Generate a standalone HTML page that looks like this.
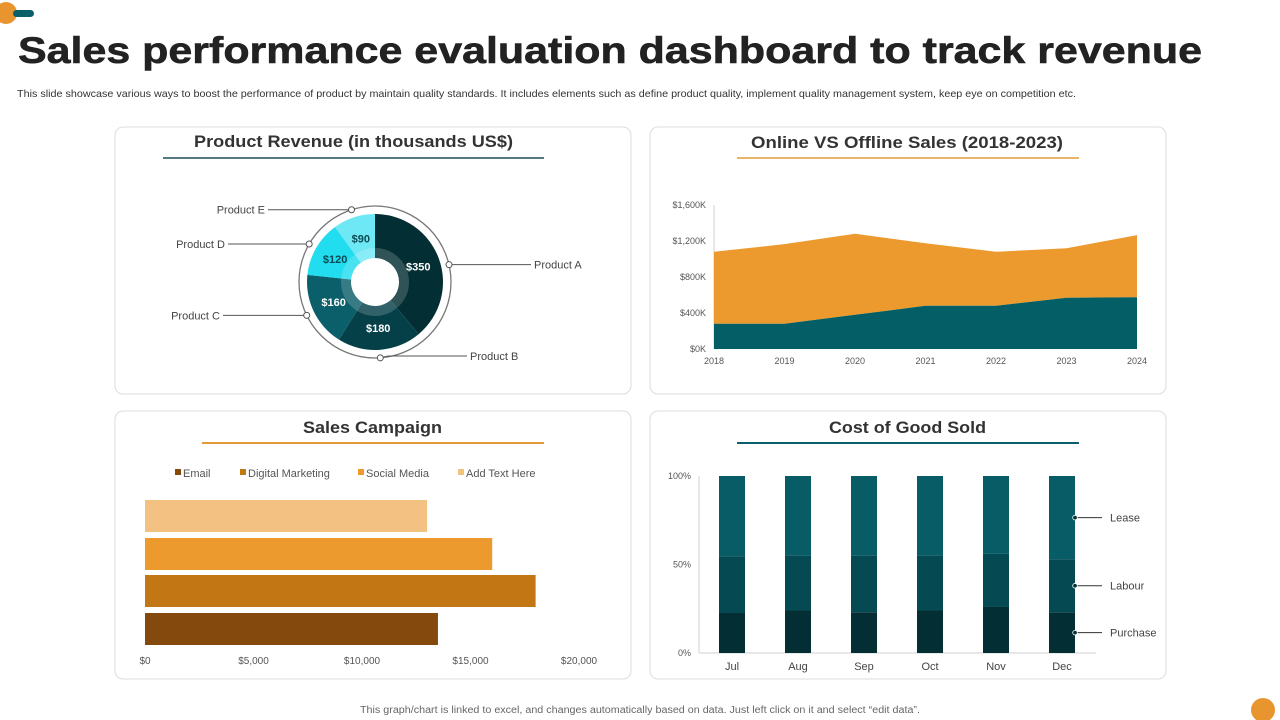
<!DOCTYPE html>
<html><head><meta charset="utf-8"><style>
body{margin:0;background:#fff;}
svg{display:block;font-family:"Liberation Sans",Arial,sans-serif;}
</style></head><body>
<svg id="s" width="1280" height="720" viewBox="0 0 1280 720">
<circle cx="6" cy="13" r="11" fill="#e8952f"/>
<rect x="13" y="10" width="21" height="7" rx="3.5" fill="#0b5f6a"/>
<text x="18" y="63" font-size="37" font-weight="bold" fill="#222" stroke="#222" stroke-width="0.6" textLength="1184" lengthAdjust="spacingAndGlyphs">Sales performance evaluation dashboard to track revenue</text>
<text x="17" y="97" font-size="10.5" fill="#333" textLength="1059" lengthAdjust="spacingAndGlyphs">This slide showcase various ways to boost the performance of product by maintain quality standards. It includes elements such as define product quality,  implement quality management system, keep eye on competition etc.</text>

<rect x="115" y="127" width="516" height="267" rx="8" fill="#fff" stroke="#dcdcdc"/>
<rect x="650" y="127" width="516" height="267" rx="8" fill="#fff" stroke="#dcdcdc"/>
<rect x="115" y="411" width="516" height="268" rx="8" fill="#fff" stroke="#dcdcdc"/>
<rect x="650" y="411" width="516" height="268" rx="8" fill="#fff" stroke="#dcdcdc"/>

<text x="194" y="147" font-size="17" font-weight="bold" fill="#333" textLength="319" lengthAdjust="spacingAndGlyphs">Product Revenue (in thousands US$)</text>
<line x1="163" y1="158" x2="544" y2="158" stroke="#1d4e5c" stroke-width="1.5"/>
<text x="751" y="148" font-size="17" font-weight="bold" fill="#333" textLength="312" lengthAdjust="spacingAndGlyphs">Online VS Offline Sales (2018-2023)</text>
<line x1="737" y1="158" x2="1079" y2="158" stroke="#e39a3b" stroke-width="1.5"/>
<text x="303" y="433" font-size="17" font-weight="bold" fill="#333" textLength="139" lengthAdjust="spacingAndGlyphs">Sales Campaign</text>
<line x1="202" y1="443" x2="544" y2="443" stroke="#e39a3b" stroke-width="2"/>
<text x="829" y="433" font-size="17" font-weight="bold" fill="#333" textLength="157" lengthAdjust="spacingAndGlyphs">Cost of Good Sold</text>
<line x1="737" y1="443" x2="1079" y2="443" stroke="#0b5f6a" stroke-width="2"/>

<g id="donut"></g><g id="area"></g><g id="bars"></g><g id="cogs"></g>

<text x="360" y="713" font-size="10" fill="#666" textLength="560" lengthAdjust="spacingAndGlyphs">This graph/chart is linked to excel, and changes automatically based on data. Just left click on it and select “edit data”.</text>
<circle cx="1263" cy="710" r="12" fill="#e8952f"/>
</svg>
<script>
const NS="http://www.w3.org/2000/svg";
function mk(p,t,a,txt){const e=document.createElementNS(NS,t);for(const k in a)e.setAttribute(k,a[k]);if(txt!==undefined)e.textContent=txt;p.appendChild(e);return e;}

// Donut data
const products=["Product A","Product B","Product C","Product D","Product E"];
const revenue=[350,180,160,120,90];
// Area data
const years=["2018","2019","2020","2021","2022","2023","2024"];
const online=[280,280,380,480,480,570,575];
const offline=[800,885,900,695,600,550,690];
const areaTicks=["$0K","$400K","$800K","$1,200K","$1,600K"];
// Sales campaign
const channels=["Email","Digital Marketing","Social Media","Add Text Here"];
const campaignValues=[13500,18000,16000,13000];
const campaignTicks=["$0","$5,000","$10,000","$15,000","$20,000"];
// COGS
const months=["Jul","Aug","Sep","Oct","Nov","Dec"];
const purchase=[22.6,24,23,24,26,23];
const labour=[32,31,32,31,30,30];
const lease=[45.4,45,45,45,44,47];
const cogsTicks=["0%","50%","100%"];

// ---- Donut
(function(){
 const g=document.getElementById('donut');
 const cx=375,cy=282,R=68,r0=24;
 const cols=["#032e33","#054048","#0b5f6a","#22dcef","#6fe8f6"];
 const tot=revenue.reduce((a,b)=>a+b,0);
 let a0=0;
 const pt=(a,r)=>[cx+r*Math.sin(a),cy-r*Math.cos(a)];
 mk(g,'circle',{cx,cy,r:76,fill:'none',stroke:'#777','stroke-width':1.3});
 revenue.forEach((v,i)=>{
  const a1=a0+v/tot*2*Math.PI;
  const [x0,y0]=pt(a0,R),[x1,y1]=pt(a1,R),[x2,y2]=pt(a1,r0),[x3,y3]=pt(a0,r0);
  const lg=(a1-a0)>Math.PI?1:0;
  const p=mk(g,'path',{d:`M${x0},${y0}A${R},${R} 0 ${lg} 1 ${x1},${y1}L${x2},${y2}A${r0},${r0} 0 ${lg} 0 ${x3},${y3}Z`,fill:cols[i]});
  
  
  const am=(a0+a1)/2,[lx,ly]=pt(am,46);
  const t=mk(g,'text',{x:lx,y:ly+4,'font-size':11,'font-weight':'bold','text-anchor':'middle',fill:i>=3?'#0b4a55':'#fff'},'$'+v);
  
  
  // leader
  const la=i==0?Math.PI/2-0.23:am;
  const [dx,dy]=pt(la,76);
  const right=Math.sin(la)>0;
  const ex=right?(i==0?531:467):(i==2?223:(i==3?228:268));
  const ey=i==1?356:dy;
  mk(g,'polyline',{points:`${dx},${dy} ${i==1?dx+8:dx},${ey} ${ex},${ey}`,fill:'none',stroke:'#555','stroke-width':1});
  const c=mk(g,'circle',{cx:dx,cy:dy,r:3,fill:'#fff',stroke:'#555'});
  
  const lt=mk(g,'text',{x:right?ex+3:ex-3,y:ey+4,'font-size':11,fill:'#444','text-anchor':right?'start':'end'},products[i]);
  
  
  a0=a1;
 });
 mk(g,'circle',{cx,cy,r:29,fill:'none',stroke:'rgba(255,255,255,0.18)','stroke-width':10});
})();

// ---- Area
(function(){
 const g=document.getElementById('area');
 const X=i=>714+i*(1137-714)/(years.length-1);
 const Y=v=>349-v*(144/1600);
 mk(g,'line',{x1:714,y1:205,x2:714,y2:349,stroke:'#d0d0d0'});
 areaTicks.forEach((t,i)=>{const e=mk(g,'text',{x:706,y:Y(i*400)+3,'font-size':9,fill:'#555','text-anchor':'end'},t);});
 years.forEach((y,i)=>{const e=mk(g,'text',{x:X(i),y:364,'font-size':9,fill:'#555','text-anchor':'middle'},y);});
 let top=online.map((v,i)=>X(i)+','+Y(v+offline[i])).join(' ');
 let mid=online.map((v,i)=>X(i)+','+Y(v)).reverse().join(' ');
 const o=mk(g,'polygon',{points:top+' '+mid,fill:'#ec9a2e'});
 
 
 let base=online.map((v,i)=>X(i)+','+Y(v)).join(' ')+` ${X(years.length-1)},${Y(0)} ${X(0)},${Y(0)}`;
 const n=mk(g,'polygon',{points:base,fill:'#035e66'});
 
 
})();

// ---- Sales campaign
(function(){
 const g=document.getElementById('bars');
 const cols=["#84490c","#c27614","#ec9a2e","#f3c182"];
 const X=v=>145+v*(434/20000);
 const legX=[175,240,358,458];
 channels.forEach((c,i)=>{
  mk(g,'rect',{x:legX[i],y:469,width:6,height:6,fill:cols[i]});
  const t=mk(g,'text',{x:legX[i]+8,y:477,'font-size':11,fill:'#555'},c);
  
  
 });
 const ys=[613,575,538,500];
 campaignValues.forEach((v,i)=>{
  const r=mk(g,'rect',{x:145,y:ys[i],width:X(v)-145,height:32,fill:cols[i]});
  
  
 });
 campaignTicks.forEach((t,i)=>{const e=mk(g,'text',{x:X(i*5000),y:664,'font-size':10,fill:'#555','text-anchor':'middle'},t);});
})();

// ---- COGS
(function(){
 const g=document.getElementById('cogs');
 const Y=p=>653-p*1.77;
 const X=i=>732+i*66;
 mk(g,'line',{x1:699,y1:476,x2:699,y2:653,stroke:'#d0d0d0'});
 mk(g,'line',{x1:699,y1:653,x2:1096,y2:653,stroke:'#d0d0d0'});
 cogsTicks.forEach((t,i)=>{const e=mk(g,'text',{x:691,y:Y(i*50)+3,'font-size':9,fill:'#555','text-anchor':'end'},t);});
 months.forEach((m,i)=>{
  const segs=[[purchase[i],'#032e33'],[labour[i],'#054a52'],[lease[i],'#075c66']];
  let acc=0;
  segs.forEach(([v,c],k)=>{
   const r=mk(g,'rect',{x:X(i)-13,y:Y(acc+v),width:26,height:v*1.77,fill:c});
   
   
   acc+=v;
  });
  const t=mk(g,'text',{x:X(i),y:670,'font-size':11,fill:'#444','text-anchor':'middle'},m);
  
 });
 const L=months.length-1;
 const lab=[["Lease",purchase[L]+labour[L]+lease[L]/2],["Labour",purchase[L]+labour[L]/2],["Purchase",purchase[L]/2]];
 lab.forEach(([n,p])=>{
  const y=Y(p);
  mk(g,'line',{x1:1075,y1:y,x2:1102,y2:y,stroke:'#333'});
  mk(g,'circle',{cx:1075,cy:y,r:2.3,fill:'#033',stroke:'#fff','stroke-width':0.8});
  const t=mk(g,'text',{x:1110,y:y+4,'font-size':11,fill:'#444'},n);
  
  
 });
})();
</script>
</body></html>
